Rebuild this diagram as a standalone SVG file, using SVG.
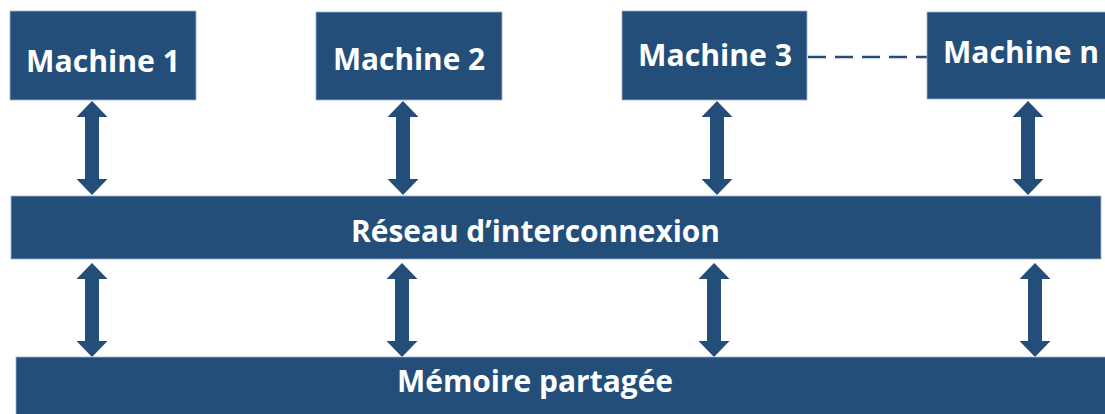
<svg xmlns="http://www.w3.org/2000/svg" xmlns:xlink="http://www.w3.org/1999/xlink" width="1105" height="414" viewBox="0 0 1105 414">
<style>
.box{fill:#234E7A;stroke:#9fb3c8;stroke-width:0.8}
.lbl{fill:#ffffff;font-family:"Open Sans","Noto Sans","Liberation Sans",sans-serif;font-weight:700;font-size:30px}
.arr{fill:#234E7A}
.dash{stroke:#234E7A;stroke-width:2.4;stroke-dasharray:18 9;fill:none}
</style>
<defs>
<path id="dbl" class="arr" d="M0,0 L15.5,16 L7,16 L7,78 L15.5,78 L0,94 L-15.5,78 L-7,78 L-7,16 L-15.5,16 Z"/>
</defs>
<rect width="1105" height="414" fill="#ffffff"/>
<g id="connectors">
<use href="#dbl" xlink:href="#dbl" x="92" y="101"/>
<use href="#dbl" xlink:href="#dbl" x="403" y="101"/>
<use href="#dbl" xlink:href="#dbl" x="717" y="101"/>
<use href="#dbl" xlink:href="#dbl" x="1028" y="101"/>
<use href="#dbl" xlink:href="#dbl" x="92" y="263"/>
<use href="#dbl" xlink:href="#dbl" x="402" y="263"/>
<use href="#dbl" xlink:href="#dbl" x="714" y="263"/>
<use href="#dbl" xlink:href="#dbl" x="1035" y="263"/>
<line class="dash" x1="808" y1="57" x2="927" y2="57"/>
</g>
<g id="machine1">
<rect class="box" x="10" y="11" width="186" height="89"/>
<text class="lbl" x="26" y="72" textLength="154" lengthAdjust="spacingAndGlyphs">Machine 1</text>
</g>
<g id="machine2">
<rect class="box" x="316" y="12" width="186" height="88"/>
<text class="lbl" x="333" y="70" textLength="152" lengthAdjust="spacingAndGlyphs">Machine 2</text>
</g>
<g id="machine3">
<rect class="box" x="622" y="11" width="185" height="89"/>
<text class="lbl" x="638" y="66" textLength="154" lengthAdjust="spacingAndGlyphs">Machine 3</text>
</g>
<g id="machinen">
<rect class="box" x="927" y="12" width="190" height="87"/>
<text class="lbl" x="943" y="63" textLength="156" lengthAdjust="spacingAndGlyphs">Machine n</text>
</g>
<g id="reseau">
<rect class="box" x="11" y="196" width="1090" height="63"/>
<text class="lbl" x="351" y="242" textLength="369" lengthAdjust="spacingAndGlyphs">Réseau d’interconnexion</text>
</g>
<g id="memoire">
<rect class="box" x="16" y="357" width="1100" height="70"/>
<text class="lbl" x="397" y="392" textLength="276" lengthAdjust="spacingAndGlyphs">Mémoire partagée</text>
</g>
</svg>
